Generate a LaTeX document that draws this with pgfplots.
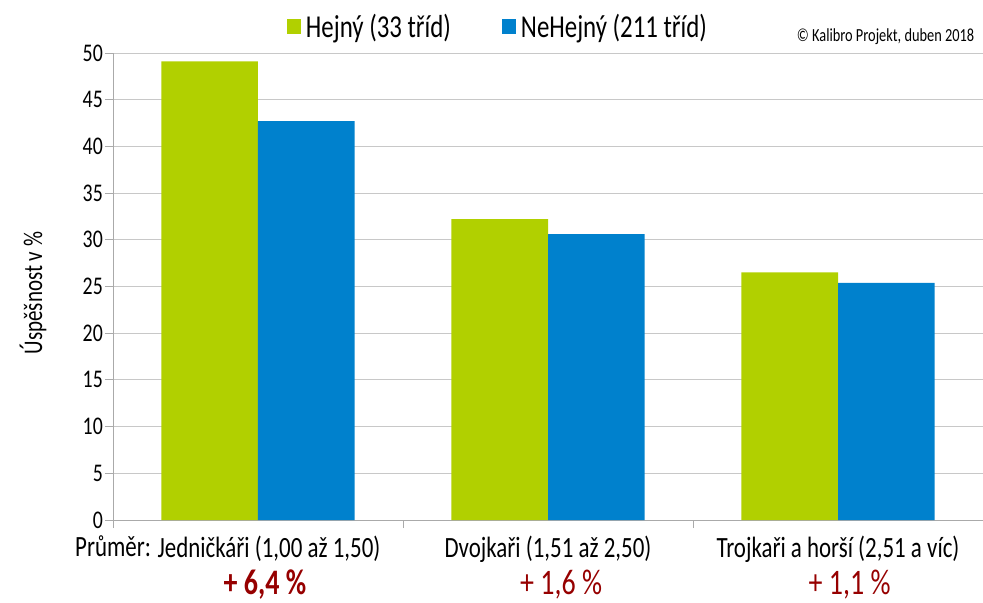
\documentclass[border=0pt]{standalone}
\usepackage{pgfplots}
\pgfplotsset{compat=1.18}
\usepackage{fontspec}
\setmainfont{Carlito}[FakeStretch=0.78]
\definecolor{hgreen}{RGB}{177,208,0}
\definecolor{hblue}{RGB}{0,129,205}
\definecolor{axgray}{RGB}{170,170,170}
\definecolor{gridgray}{RGB}{200,200,200}
\definecolor{dred}{RGB}{150,0,0}
\begin{document}
\begin{tikzpicture}
\useasboundingbox (-113bp,-83bp) rectangle (870bp,520bp);
\begin{axis}[
  at={(0,0)}, anchor=south west,
  scale only axis, width=870bp, height=467bp,
  xmin=-0.5, xmax=2.5, ymin=0, ymax=50,
  axis x line*=bottom, axis y line*=left,
  axis line style={axgray, line width=0.8bp},
  ytick={0,5,...,50},
  ymajorgrids, grid style={gridgray, line width=0.8bp},
  tick align=outside, major tick length=8bp,
  tick style={axgray, line width=0.8bp},
  xtick={-0.5,0.5,1.5,2.5}, xticklabels={},
  extra x ticks={0,1,2},
  extra x tick labels={{\hspace*{22bp}Jedničkáři (1,00 až 1,50)}, {Dvojkaři (1,51 až 2,50)}, {Trojkaři a horší (2,51 a víc)}},
  extra x tick style={major tick length=0pt, grid=none, xticklabel style={anchor=base, yshift=-37bp, font=\fontsize{29.5}{34}\selectfont}},
  /pgf/number format/assume math mode=true,
  ticklabel style={font=\fontsize{25.5}{30}\selectfont, text=black, inner sep=2bp},
  ylabel={Úspěšnost v \%},
  every axis y label/.style={at={(axis description cs:-0.092,0.486)}, rotate=90, anchor=center, font=\fontsize{27}{31}\selectfont},
  legend style={at={(axis description cs:0.4425,1.056)}, anchor=center, draw=none, fill=none,
    legend columns=2, font=\fontsize{32}{36}\selectfont, inner sep=0pt,
    /tikz/every odd column/.append style={column sep=3bp},
    /tikz/every even column/.append style={column sep=49bp}},
  clip=false,
  ybar, bar width=0.333,
]
\addplot[fill=hgreen, draw=none, bar shift=-0.1665,
  legend image code/.code={\fill[hgreen] (0bp,-7bp) rectangle (14bp,8bp);}] coordinates {(0,49.1) (1,32.2) (2,26.5)};
\addlegendentry{Hejný (33 tříd)}
\addplot[fill=hblue, draw=none, bar shift=0.1665,
  legend image code/.code={\fill[hblue] (0bp,-7bp) rectangle (14bp,8bp);}] coordinates {(0,42.7) (1,30.6) (2,25.4)};
\addlegendentry{NeHejný (211 tříd)}
\node[anchor=east, font=\fontsize{18.5}{22}\selectfont] at (axis description cs:0.994,1.034) {© Kalibro Projekt, duben 2018};
\node[anchor=base west, font=\fontsize{29.5}{34}\selectfont, inner sep=0pt] at (axis cs:-0.631,-3.96) {Průměr:};
\node[anchor=base, inner sep=1bp, text=dred, font=\fontsize{36}{40}\selectfont\bfseries] at (axis cs:0.024,-7.95) {+ 6,4 \%};
\node[anchor=base, inner sep=1bp, text=dred, font=\fontsize{36}{40}\selectfont] at (axis cs:1.045,-7.95) {+ 1,6 \%};
\node[anchor=base, inner sep=1bp, text=dred, font=\fontsize{36}{40}\selectfont] at (axis cs:2.04,-7.95) {+ 1,1 \%};
\end{axis}
\end{tikzpicture}
\end{document}
